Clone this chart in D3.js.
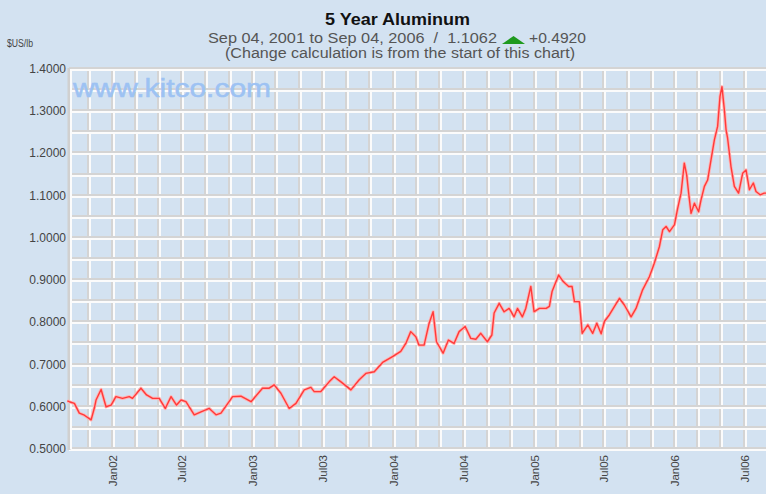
<!DOCTYPE html>
<html>
<head>
<meta charset="utf-8">
<script src="https://cdn.jsdelivr.net/npm/d3@7"></script>
<style>
    body { margin: 0; background: #d3e2f1; }
    svg { display: block; font-family: "Liberation Sans", Arial, sans-serif; }
    text { white-space: pre; }
</style>
</head>
<body>
<svg id="Target" width="766" height="494"></svg>
<script>

// decimal years, with the price at each point ($US/lb)
const years = [
    2001.676, 2001.690, 2001.726, 2001.761, 2001.797, 2001.845, 2001.868, 2001.880, 2001.916, 2001.951,
    2001.987, 2002.022, 2002.069, 2002.117, 2002.140, 2002.200, 2002.240, 2002.283, 2002.330, 2002.373,
    2002.414, 2002.453, 2002.485, 2002.520, 2002.579, 2002.627, 2002.686, 2002.734, 2002.769, 2002.852,
    2002.911, 2002.983, 2003.065, 2003.113, 2003.148, 2003.196, 2003.255, 2003.303, 2003.362, 2003.409,
    2003.433, 2003.480, 2003.539, 2003.575, 2003.623, 2003.694, 2003.753, 2003.800, 2003.860, 2003.919,
    2003.990, 2004.049, 2004.085, 2004.120, 2004.156, 2004.179, 2004.215, 2004.251, 2004.279, 2004.303,
    2004.350, 2004.388, 2004.428, 2004.464, 2004.507, 2004.547, 2004.583, 2004.618, 2004.665, 2004.697,
    2004.713, 2004.749, 2004.784, 2004.820, 2004.855, 2004.879, 2004.914, 2004.938, 2004.974, 2004.997,
    2005.033, 2005.081, 2005.104, 2005.123, 2005.170, 2005.204, 2005.241, 2005.265, 2005.282, 2005.317,
    2005.337, 2005.377, 2005.412, 2005.441, 2005.472, 2005.495, 2005.531, 2005.566, 2005.602, 2005.637,
    2005.685, 2005.720, 2005.767, 2005.815, 2005.850, 2005.886, 2005.910, 2005.934, 2005.958, 2005.993,
    2006.017, 2006.041, 2006.064, 2006.081, 2006.095, 2006.112, 2006.136, 2006.166, 2006.183, 2006.207,
    2006.230, 2006.254, 2006.278, 2006.301, 2006.318, 2006.332, 2006.349, 2006.361, 2006.372, 2006.396,
    2006.420, 2006.450, 2006.479, 2006.503, 2006.527, 2006.555, 2006.574, 2006.603, 2006.633, 2006.676
];

const prices = [
    0.6142, 0.612, 0.608, 0.585, 0.580, 0.569, 0.597, 0.616, 0.641, 0.600,
    0.604, 0.624, 0.620, 0.624, 0.620, 0.644, 0.628, 0.620, 0.620, 0.596,
    0.624, 0.604, 0.616, 0.612, 0.581, 0.588, 0.596, 0.581, 0.585, 0.624,
    0.625, 0.612, 0.644, 0.644, 0.652, 0.632, 0.596, 0.608, 0.640, 0.646,
    0.636, 0.636, 0.659, 0.671, 0.659, 0.640, 0.664, 0.679, 0.683, 0.705,
    0.719, 0.731, 0.750, 0.778, 0.766, 0.746, 0.746, 0.798, 0.825, 0.754,
    0.727, 0.758, 0.750, 0.778, 0.790, 0.762, 0.760, 0.774, 0.754, 0.770,
    0.822, 0.845, 0.825, 0.833, 0.813, 0.833, 0.813, 0.833, 0.885, 0.825,
    0.833, 0.833, 0.838, 0.873, 0.912, 0.896, 0.885, 0.885, 0.849, 0.849,
    0.774, 0.794, 0.774, 0.798, 0.773, 0.802, 0.818, 0.837, 0.857, 0.841,
    0.813, 0.833, 0.877, 0.908, 0.940, 0.979, 1.019, 1.027, 1.015, 1.031,
    1.070, 1.106, 1.177, 1.149, 1.106, 1.058, 1.082, 1.062, 1.090, 1.122,
    1.137, 1.185, 1.232, 1.264, 1.335, 1.358, 1.303, 1.256, 1.236, 1.169,
    1.122, 1.106, 1.153, 1.161, 1.114, 1.130, 1.110, 1.102, 1.106, 1.1062
];

const yTicks = [0.5, 0.6, 0.7, 0.8, 0.9, 1.0, 1.1, 1.2, 1.3, 1.4];
const xTickLabels = ["Jan02", "Jul02", "Jan03", "Jul03", "Jan04", "Jul04", "Jan05", "Jul05", "Jan06", "Jul06"];

const toDate = (v) => {
    const yr = Math.floor(v);
    const start = new Date(yr, 0, 1);
    return new Date(start.getTime() + (v - yr) * 365.25 * 864e5);
};

const data = years.map((v, i) => ({ date: toDate(v), value: prices[i] }));

const svg = d3.select("#Target");

const plotLeft = 69, plotTop = 69, plotBottom = 449, plotRight = 766;

const x = d3.scaleTime()
    .domain([new Date(2001, 8, 4), new Date(2006, 8, 4)])
    .range([67, 770]);

const y = d3.scaleLinear()
    .domain([0.5, 1.4])
    .range([plotBottom, plotTop]);

// plot grid
const grid = svg.append("g");

const hLines = d3.range(0.5, 1.4001, 0.05);
const vLines = d3.timeMonth.range(new Date(2001, 9, 1), new Date(2006, 9, 1))
    .filter(d => d.getMonth() % 2 === 0);

grid.selectAll("line.vg")
    .data(vLines)
    .enter()
    .append("line")
    .attr("x1", d => Math.round(x(d)) - 0.5)
    .attr("x2", d => Math.round(x(d)) - 0.5)
    .attr("y1", plotTop)
    .attr("y2", plotBottom)
    .attr("stroke", "#d4d4d4")
    .attr("stroke-width", 3);

grid.selectAll("line.vw")
    .data(vLines)
    .enter()
    .append("line")
    .attr("x1", d => Math.round(x(d)) + 1)
    .attr("x2", d => Math.round(x(d)) + 1)
    .attr("y1", plotTop)
    .attr("y2", plotBottom)
    .attr("stroke", "#fbfbfb")
    .attr("stroke-width", 2);

grid.selectAll("line.hg")
    .data(hLines)
    .enter()
    .append("line")
    .attr("x1", plotLeft)
    .attr("x2", plotRight)
    .attr("y1", d => Math.round(y(d)) - 0.5)
    .attr("y2", d => Math.round(y(d)) - 0.5)
    .attr("stroke", "#d4d4d4")
    .attr("stroke-width", 3);

grid.selectAll("line.hw")
    .data(hLines)
    .enter()
    .append("line")
    .attr("x1", plotLeft)
    .attr("x2", plotRight)
    .attr("y1", d => Math.round(y(d)) + 1)
    .attr("y2", d => Math.round(y(d)) + 1)
    .attr("stroke", "#fbfbfb")
    .attr("stroke-width", 2);

// left border
svg.append("line")
    .attr("x1", plotLeft).attr("x2", plotLeft)
    .attr("y1", plotTop - 1).attr("y2", plotBottom + 1)
    .attr("stroke", "#d0d0d0")
    .attr("stroke-width", 3);
svg.append("line")
    .attr("x1", plotLeft + 2).attr("x2", plotLeft + 2)
    .attr("y1", plotTop).attr("y2", plotBottom)
    .attr("stroke", "#fbfbfb")
    .attr("stroke-width", 2);

// watermark
svg.append("text")
    .attr("x", 73)
    .attr("y", 97)
    .attr("font-size", 25)
    .attr("fill", "#9dc2f3")
    .attr("stroke", "#9dc2f3")
    .attr("stroke-width", 0.5)
    .attr("textLength", 198)
    .attr("lengthAdjust", "spacingAndGlyphs")
    .text("www.kitco.com");

// price line
const line = d3.line()
    .x(d => x(d.date))
    .y(d => y(d.value));

svg.append("path")
    .datum(data)
    .attr("d", line)
    .attr("fill", "none")
    .attr("stroke", "#ffb4b4")
    .attr("stroke-width", 3.2)
    .attr("stroke-linejoin", "round");

svg.append("path")
    .datum(data)
    .attr("d", line)
    .attr("fill", "none")
    .attr("stroke", "#ff3a3a")
    .attr("stroke-width", 1.4)
    .attr("stroke-linejoin", "round");

// y axis labels
svg.selectAll("text.ytick")
    .data(yTicks)
    .enter()
    .append("text")
    .attr("x", 66)
    .attr("y", d => y(d) + 4)
    .attr("text-anchor", "end")
    .attr("font-size", 12)
    .attr("fill", "#444")
    .text(d => d.toFixed(4));

// x axis labels, rotated
const xTickDates = xTickLabels.map((t, i) => new Date(2002 + Math.floor(i / 2), (i % 2) * 6, 1));

svg.selectAll("text.xtick")
    .data(xTickLabels)
    .enter()
    .append("text")
    .attr("transform", (d, i) => `translate(${x(xTickDates[i]) + 4}, 455) rotate(-90)`)
    .attr("text-anchor", "end")
    .attr("font-size", 11.5)
    .attr("fill", "#444")
    .text(d => d);

// titles
svg.append("text")
    .attr("x", 7)
    .attr("y", 47)
    .attr("font-size", 10)
    .attr("fill", "#444")
    .attr("textLength", 26)
    .attr("lengthAdjust", "spacingAndGlyphs")
    .text("$US/lb");

svg.append("text")
    .attr("x", 325)
    .attr("y", 25)
    .attr("font-size", 16)
    .attr("font-weight", "bold")
    .attr("fill", "#111")
    .attr("textLength", 145)
    .attr("lengthAdjust", "spacingAndGlyphs")
    .text("5 Year Aluminum");

svg.append("text")
    .attr("x", 208)
    .attr("y", 43)
    .attr("font-size", 15)
    .attr("fill", "#555")
    .attr("textLength", 289)
    .attr("lengthAdjust", "spacingAndGlyphs")
    .text("Sep 04, 2001 to Sep 04, 2006  /  1.1062");

svg.append("path")
    .attr("d", "M502,44 L513.5,36 L525,44 Z")
    .attr("fill", "#1f9a1f");

svg.append("text")
    .attr("x", 529)
    .attr("y", 43)
    .attr("font-size", 15)
    .attr("fill", "#555")
    .attr("textLength", 57)
    .attr("lengthAdjust", "spacingAndGlyphs")
    .text("+0.4920");

svg.append("text")
    .attr("x", 225)
    .attr("y", 58)
    .attr("font-size", 14)
    .attr("fill", "#555")
    .attr("textLength", 350)
    .attr("lengthAdjust", "spacingAndGlyphs")
    .text("(Change calculation is from the start of this chart)");

</script>
</body>
</html>
